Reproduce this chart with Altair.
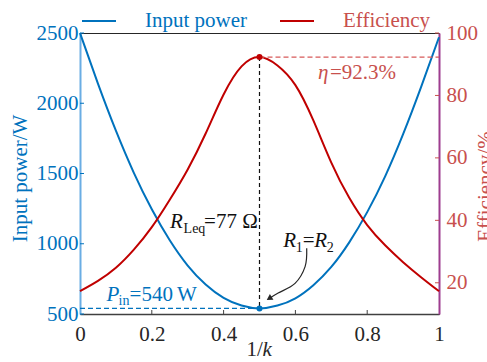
import altair as alt
import pandas as pd

# ---------------- data ----------------
x_vals = [0.0, 0.05, 0.1, 0.15, 0.2, 0.25, 0.3, 0.35, 0.4, 0.45, 0.5,
          0.55, 0.6, 0.65, 0.7, 0.75, 0.8, 0.85, 0.9, 0.95, 1.0]
power_vals = [2500, 2140, 1805, 1505, 1245, 1025, 845, 710, 615, 560, 540,
              560, 612, 705, 835, 1010, 1225, 1480, 1780, 2115, 2470]
eff_vals = [17.3, 20.6, 24.8, 30.6, 37.8, 46.6, 56.3, 67.8, 80.3, 89.3, 92.3,
            89.6, 83.3, 72.0, 58.5, 47.2, 38.5, 32.0, 26.6, 21.8, 17.3]

series_names = ["Input power", "Efficiency"]
x_ticks = [0, 0.2, 0.4, 0.6, 0.8, 1]
left_ticks = [500, 1000, 1500, 2000, 2500]
right_ticks = [20, 40, 60, 80, 100]
left_domain = [500, 2500]
right_domain = [10, 100]

opt_x = 0.5
p_min = 540
eta_max = 92.3

# annotation anchors (data space)
rleq_anchor = [0.251, 1112]
r12_anchor = [0.566, 979]
pin_anchor = [0.074, 592]
eta_anchor = [0.663, 85.2]
arrow_x = [0.6315, 0.627, 0.599, 0.552, 0.527]
arrow_y = [968, 837, 718, 649, 611]
arrow_tip = [0.527, 611]

# ---------------- style ----------------
FONT = "'Liberation Serif', 'Times New Roman', serif"
FS = 21
BLUE = "#0072BD"
BLUE_AXIS = "#6AADE4"
RED = "#C00000"
RED_TXT = "#C8504D"
RED_DASH = "#D85A5A"
PURPLE = "#9E3D8F"
DARK = "#262626"
GRAY = "#404040"
W, H = 359, 281
TICK = 4

xs = alt.Scale(domain=[0, 1], nice=False, zero=False)
ysl = alt.Scale(domain=left_domain, nice=False, zero=False)
ysr = alt.Scale(domain=right_domain, nice=False, zero=False)

x_axis = alt.Axis(values=x_ticks, labelExpr="'' + datum.value", title=None, grid=False,
                  labelFont=FONT, labelFontSize=FS, labelColor=DARK,
                  domainColor=GRAY, domainWidth=1.5, ticks=False,
                  labelPadding=9, labelFlush=False)
left_axis = alt.Axis(values=left_ticks, format="d", title="Input power/W", orient="left", grid=False,
                     labelFont=FONT, labelFontSize=FS, labelColor=BLUE,
                     domainColor=BLUE_AXIS, domainWidth=2, ticks=False,
                     labelPadding=2, labelFlush=False,
                     titleFont=FONT, titleFontSize=FS, titleFontWeight="normal", titleColor=BLUE,
                     titleAngle=270, titleBaseline="alphabetic", titleAlign="center",
                     titleX=-54, titleY=145)
right_axis = alt.Axis(values=right_ticks, format="d", title="Efficiency/%", orient="right", grid=False,
                      labelFont=FONT, labelFontSize=FS, labelColor=RED_TXT,
                      domainColor=PURPLE, domainWidth=2, ticks=False,
                      labelPadding=7, labelFlush=False,
                      titleFont=FONT, titleFontSize=FS, titleFontWeight="normal", titleColor=RED_TXT,
                      titleAngle=270, titleBaseline="alphabetic", titleAlign="center",
                      titleX=52, titleY=153)

color = alt.Color("series:N",
                  scale=alt.Scale(domain=series_names, range=[BLUE, RED]),
                  legend=alt.Legend(orient="none", legendX=1, legendY=-30, direction="horizontal",
                                    title=None, symbolType="stroke", symbolSize=1156,
                                    symbolStrokeWidth=2, labelFont=FONT, labelFontSize=FS,
                                    labelOffset=28, columnPadding=28, padding=0, labelLimit=0,
                                    labelColor=alt.ExprRef(expr="datum.label == 'Input power' ? '%s' : '%s'" % (BLUE, RED_TXT))))

df_p = pd.DataFrame({"x": x_vals, "v": power_vals, "series": series_names[0]})
df_e = pd.DataFrame({"x": x_vals, "v": eff_vals, "series": series_names[1]})


def X(field="x:Q"):
    # every layer carries the same x axis definition so that they merge into one
    return alt.X(field, scale=xs, axis=x_axis, title=None)


def YL(field="y:Q"):
    return alt.Y(field, scale=ysl, axis=None)


def YR(field="y:Q"):
    return alt.Y(field, scale=ysr, axis=None)


def text_layer(anchor, text, yfun, color_, dx, dy=0, size=FS, italic=False):
    df = pd.DataFrame({"x": [anchor[0]], "y": [anchor[1]], "t": [text]})
    kw = dict(font=FONT, fontSize=size, align="left", baseline="alphabetic",
              color=color_, dx=dx, dy=dy)
    if italic:
        kw["fontStyle"] = "italic"
    return alt.Chart(df).mark_text(**kw).encode(x=X(), y=yfun(), text="t:N")


# inward tick marks
x_tick_marks = alt.Chart(pd.DataFrame({"x": x_ticks[1:-1]})).mark_rule(color=GRAY, strokeWidth=1).encode(
    x=X(), y=alt.value(H), y2=alt.value(H - TICK))
left_tick_marks = alt.Chart(pd.DataFrame({"y": left_ticks})).mark_rule(color=BLUE, strokeWidth=1).encode(
    y=YL(), x=alt.value(0), x2=alt.value(TICK))
right_tick_marks = alt.Chart(pd.DataFrame({"y": right_ticks})).mark_rule(color=RED_TXT, strokeWidth=1).encode(
    y=YR(), x=alt.value(W - TICK), x2=alt.value(W))

power_line = alt.Chart(df_p).mark_line(strokeWidth=2, interpolate="natural").encode(
    x=X(),
    y=alt.Y("v:Q", scale=ysl, axis=left_axis),
    color=color)

eff_line = alt.Chart(df_e).mark_line(strokeWidth=2, interpolate="natural").encode(
    x=X(),
    y=alt.Y("v:Q", scale=ysr, axis=right_axis),
    color=color)

pin_rule = alt.Chart(pd.DataFrame({"x": [0], "x2": [opt_x], "y": [p_min]})).mark_rule(
    color=BLUE, strokeDash=[5, 3], strokeWidth=1.3).encode(x=X(), x2="x2:Q", y=YL())

pin_dot = alt.Chart(pd.DataFrame({"x": [opt_x], "y": [p_min]})).mark_point(
    filled=True, size=36, color=BLUE, opacity=1).encode(x=X(), y=YL())

arrow_line = alt.Chart(pd.DataFrame({"x": arrow_x, "y": arrow_y, "i": list(range(len(arrow_x)))})).mark_line(
    color=DARK, strokeWidth=1.2, interpolate="cardinal").encode(x=X(), y=YL(), order="i:Q")
arrow_head = alt.Chart(pd.DataFrame({"x": [arrow_tip[0]], "y": [arrow_tip[1]]})).mark_point(
    shape="triangle-up", filled=True, size=45, angle=238, color=DARK, opacity=1).encode(x=X(), y=YL())

xtitle_df = pd.DataFrame({"x": [0.5]})
xt1 = alt.Chart(xtitle_df).mark_text(font=FONT, fontSize=FS, align="left", baseline="alphabetic",
                                     color=DARK, dx=-13).encode(x=X(), y=alt.value(H + 42), text=alt.value("1/"))
xt2 = alt.Chart(xtitle_df).mark_text(font=FONT, fontSize=FS, align="left", baseline="alphabetic",
                                     color=DARK, dx=3, fontStyle="italic").encode(x=X(), y=alt.value(H + 42), text=alt.value("k"))

eta_rule = alt.Chart(pd.DataFrame({"x": [opt_x], "x2": [1], "y": [eta_max]})).mark_rule(
    color=RED_DASH, strokeDash=[5, 3], strokeWidth=1.3).encode(x=X(), x2="x2:Q", y=YR())

# bottom of the vertical guide: the power minimum expressed on the efficiency scale
pmin_on_right = right_domain[0] + (p_min - left_domain[0]) / (left_domain[1] - left_domain[0]) * (right_domain[1] - right_domain[0])
v_rule = alt.Chart(pd.DataFrame({"x": [opt_x], "y": [eta_max], "y2": [pmin_on_right]})).mark_rule(
    color="#111111", strokeDash=[4, 3], strokeWidth=1.2).encode(x=X(), y=YR(), y2="y2:Q")

eta_dot = alt.Chart(pd.DataFrame({"x": [opt_x], "y": [eta_max]})).mark_point(
    filled=True, size=36, color=RED, opacity=1).encode(x=X(), y=YR())

layers = [
    power_line, eff_line,
    x_tick_marks, left_tick_marks, right_tick_marks,
    pin_rule, eta_rule, v_rule, arrow_line, arrow_head, pin_dot, eta_dot,
    text_layer(pin_anchor, "P", YL, BLUE, 0, italic=True),
    text_layer(pin_anchor, "in", YL, BLUE, 12, dy=4, size=14),
    text_layer(pin_anchor, "=540\u2009W", YL, BLUE, 23),
    text_layer(rleq_anchor, "R", YL, "#111111", 0, italic=True),
    text_layer(rleq_anchor, "Leq", YL, "#111111", 13.5, dy=5, size=14),
    text_layer(rleq_anchor, "=77 \u03a9", YL, "#111111", 34),
    text_layer(r12_anchor, "R", YL, "#111111", 0, italic=True),
    text_layer(r12_anchor, "1", YL, "#111111", 12.5, dy=5, size=14),
    text_layer(r12_anchor, "=", YL, "#111111", 19.5),
    text_layer(r12_anchor, "R", YL, "#111111", 31, italic=True),
    text_layer(r12_anchor, "2", YL, "#111111", 43.5, dy=5, size=14),
    text_layer(eta_anchor, "\u03b7", YR, RED_TXT, 0, italic=True),
    text_layer(eta_anchor, "=92.3%", YR, RED_TXT, 12),
    xt1, xt2,
]

chart = alt.layer(*layers).resolve_scale(y="independent").properties(
    width=W, height=H,
    autosize=alt.AutoSizeParams(type="none"),
    padding={"left": 80, "top": 33, "right": 48, "bottom": 48},
).configure_view(stroke=DARK, strokeWidth=1)

chart.save("out.html", embed_options={"renderer": "svg", "actions": False})
